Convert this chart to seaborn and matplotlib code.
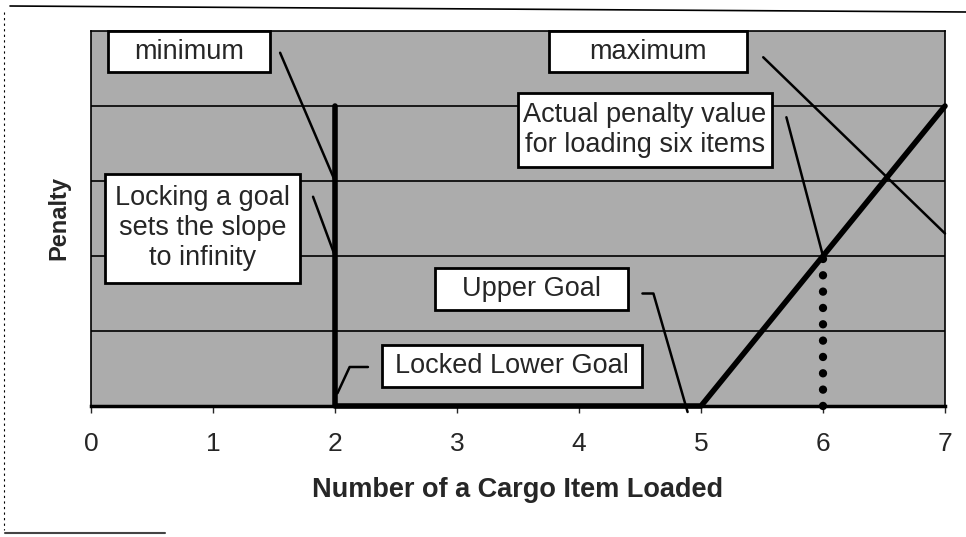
import numpy as np
import pandas as pd
import seaborn as sns
import matplotlib.pyplot as plt
from matplotlib.patches import Rectangle
from matplotlib.lines import Line2D

# penalty curve: locked lower goal at 2, upper goal at 5
pen_x = [2, 2, 5, 7]
pen_y = [4, 0, 0, 4]

# actual penalty for loading six items
six_x = [6, 6]
six_y = [0, 2]

x_ticks = [0, 1, 2, 3, 4, 5, 6, 7]

# callout boxes: text, (x0, x1, y0, y1), leader line points
labels = ['minimum', 'Locking a goal\nsets the slope\nto infinity', 'maximum',
          'Actual penalty value\nfor loading six items', 'Upper Goal', 'Locked Lower Goal']
boxes = [(0.14, 1.47, 4.45, 5.0), (0.115, 1.71, 1.64, 3.1), (3.75, 5.38, 4.45, 5.0),
         (3.5, 5.58, 3.19, 4.17), (2.82, 4.40, 1.28, 1.84), (2.385, 4.52, 0.25, 0.81)]
leaders = [([1.55, 2.0], [4.71, 3.0]),
           ([1.82, 2.0], [2.79, 2.0]),
           ([5.51, 7.0], [4.65, 2.3]),
           ([5.70, 6.0], [3.85, 2.0]),
           ([4.52, 4.61, 4.89], [1.5, 1.5, -0.08]),
           ([2.27, 2.12, 2.02], [0.52, 0.52, 0.17])]

sns.set_style('white')
plt.rcParams['font.family'] = ['Liberation Sans', 'DejaVu Sans']

fig = plt.figure(figsize=(9.66, 5.37), dpi=100)
ax = fig.add_axes([91/966, 1-406/537, 854/966, 375/537])
ax.set_facecolor('#acacac')

ax.set_xlim(0, 7)
ax.set_ylim(0, 5)
for g in [1, 2, 3, 4]:
    ax.axhline(g, color='black', lw=1.2, zorder=1)

df = pd.DataFrame({'x': pen_x, 'y': pen_y})
sns.lineplot(data=df, x='x', y='y', sort=False, estimator=None, color='black',
             lw=4, ax=ax, zorder=4, clip_on=False)
ax.plot(six_x, six_y, color='black', lw=6, linestyle=(0, (0.01, 1.95)),
        dash_capstyle='round', zorder=3, clip_on=False)

for (txt, (x0, x1, y0, y1), (lx, ly)) in zip(labels, boxes, leaders):
    ax.add_patch(Rectangle((x0, y0), x1-x0, y1-y0, facecolor='white', edgecolor='black',
                           lw=2, zorder=5, clip_on=False))
    ax.text((x0+x1)/2, (y0+y1)/2, txt, ha='center', va='center', fontsize=19.5,
            linespacing=1.2, zorder=6, clip_on=False)
    ax.plot(lx, ly, color='black', lw=1.8, zorder=4, clip_on=False)

ax.set_xticks(x_ticks)
ax.set_xticklabels([str(t) for t in x_ticks], fontsize=19)
ax.set_yticks([])
ax.tick_params(axis='x', direction='out', length=5, width=1, pad=14, bottom=True)
for s in ['left', 'top', 'right']:
    ax.spines[s].set_linewidth(1.2)
    ax.spines[s].set_color('black')
ax.spines['bottom'].set_linewidth(2.5)
ax.spines['bottom'].set_color('black')

ax.set_xlabel('Number of a Cargo Item Loaded', fontsize=19.5, fontweight='bold', labelpad=15)
ax.set_ylabel('Penalty', fontsize=17, fontweight='bold', labelpad=15)

# scanned page border
fig.add_artist(Line2D([10/966, 1], [1-6/537, 1-12/537], color='black', lw=1.2))
fig.add_artist(Line2D([4/966, 4/966], [1-12/537, 1-530/537], color='black', lw=0.8,
                      linestyle=(0, (2, 3))))
fig.add_artist(Line2D([5/966, 165/966], [1-533/537, 1-533/537], color='#444444', lw=1.5))

fig.savefig('out.png', dpi=100)
